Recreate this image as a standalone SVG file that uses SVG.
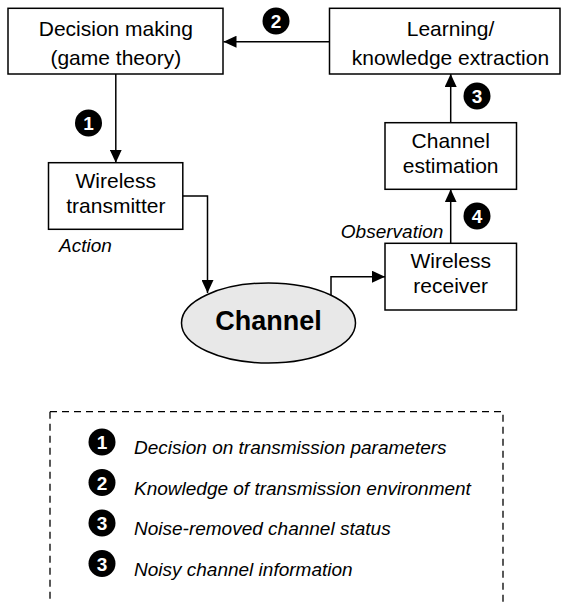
<svg xmlns="http://www.w3.org/2000/svg" width="562" height="603" viewBox="0 0 562 603">
  <style>
    .box { fill: #ffffff; stroke: #000000; stroke-width: 1.5; }
    .lbl { font-family: "Liberation Sans", Arial, sans-serif; font-size: 21px; fill: #000000; text-anchor: middle; }
    .note { font-family: "Liberation Sans", Arial, sans-serif; font-size: 19px; font-style: italic; fill: #000000; }
    .wire { fill: none; stroke: #000000; stroke-width: 1.5; }
    .badge circle { fill: #000000; }
    .badge text { font-family: "Liberation Sans", Arial, sans-serif; font-size: 19px; font-weight: bold; fill: #ffffff; text-anchor: middle; }
  </style>
  <defs>
    <marker id="arrow" viewBox="0 0 13 12" refX="13" refY="6" markerWidth="13" markerHeight="12" markerUnits="userSpaceOnUse" orient="auto">
      <path d="M0,0 L13,6 L0,12 z" fill="#000000"/>
    </marker>
  </defs>

  <rect width="562" height="603" fill="#ffffff"/>

  <!-- connectors -->
  <g id="connectors">
    <path class="wire" d="M329.5,41.7 H223.5" marker-end="url(#arrow)"/>
    <path class="wire" d="M115.8,74 V162.7" marker-end="url(#arrow)"/>
    <path class="wire" d="M182.8,196 H207.5 V293" marker-end="url(#arrow)"/>
    <path class="wire" d="M331,295.5 V276.7 H385" marker-end="url(#arrow)"/>
    <path class="wire" d="M450.7,243.3 V189.3" marker-end="url(#arrow)"/>
    <path class="wire" d="M450.7,122.7 V74" marker-end="url(#arrow)"/>
  </g>

  <!-- step badges on the connectors -->
  <g id="badges" class="badge">
    <g id="badge-1"><circle cx="88.5" cy="123" r="13.5"/><text x="88.5" y="130">1</text></g>
    <g id="badge-2"><circle cx="276" cy="21" r="13.5"/><text x="276" y="28">2</text></g>
    <g id="badge-3"><circle cx="477" cy="96" r="13.5"/><text x="477" y="103">3</text></g>
    <g id="badge-4"><circle cx="477" cy="216" r="13.5"/><text x="477" y="223">4</text></g>
  </g>

  <g id="decision">
    <rect class="box" x="8" y="8.3" width="215" height="65.7"/>
    <text class="lbl" x="115.8" y="35.7">Decision making</text>
    <text class="lbl" x="115.8" y="65">(game theory)</text>
  </g>

  <g id="learning">
    <rect class="box" x="329.5" y="8.3" width="230.5" height="65.7"/>
    <text class="lbl" x="450.5" y="35.7">Learning/</text>
    <text class="lbl" x="450.5" y="65">knowledge extraction</text>
  </g>

  <g id="transmitter">
    <rect class="box" x="48.5" y="162.7" width="134.3" height="66.6"/>
    <text class="lbl" x="115.8" y="188.3">Wireless</text>
    <text class="lbl" x="115.8" y="213.3">transmitter</text>
  </g>

  <g id="estimation">
    <rect class="box" x="385" y="122.7" width="131.5" height="66.6"/>
    <text class="lbl" x="450.7" y="148.3">Channel</text>
    <text class="lbl" x="450.7" y="173.3">estimation</text>
  </g>

  <g id="receiver">
    <rect class="box" x="385" y="243.3" width="131.5" height="66.7"/>
    <text class="lbl" x="450.7" y="268.3">Wireless</text>
    <text class="lbl" x="450.7" y="293.3">receiver</text>
  </g>

  <g id="channel">
    <ellipse cx="268.5" cy="323" rx="87" ry="40" fill="#e8e8e8" stroke="#000000" stroke-width="1.5"/>
    <text x="268.5" y="330" font-family="Liberation Sans, Arial, sans-serif" font-size="27" font-weight="bold" text-anchor="middle" fill="#000000">Channel</text>
  </g>

  <text class="note" x="59" y="251.7">Action</text>
  <text class="note" x="443.3" y="238.3" text-anchor="end">Observation</text>

  <!-- legend -->
  <g id="legend">
    <path d="M50,411.7 V603 M50,411.7 H503 V603" fill="none" stroke="#000000" stroke-width="1.3" stroke-dasharray="7,5"/>
    <g class="badge">
      <circle cx="102" cy="442" r="13.5"/><text x="102" y="449">1</text>
      <circle cx="102" cy="482.5" r="13.5"/><text x="102" y="489.5">2</text>
      <circle cx="102" cy="523" r="13.5"/><text x="102" y="530">3</text>
      <circle cx="102" cy="563.5" r="13.5"/><text x="102" y="570.5">3</text>
    </g>
    <text class="note" x="134" y="454">Decision on transmission parameters</text>
    <text class="note" x="134" y="494.5">Knowledge of transmission environment</text>
    <text class="note" x="134" y="535">Noise-removed channel status</text>
    <text class="note" x="134" y="575.5">Noisy channel information</text>
  </g>
</svg>
